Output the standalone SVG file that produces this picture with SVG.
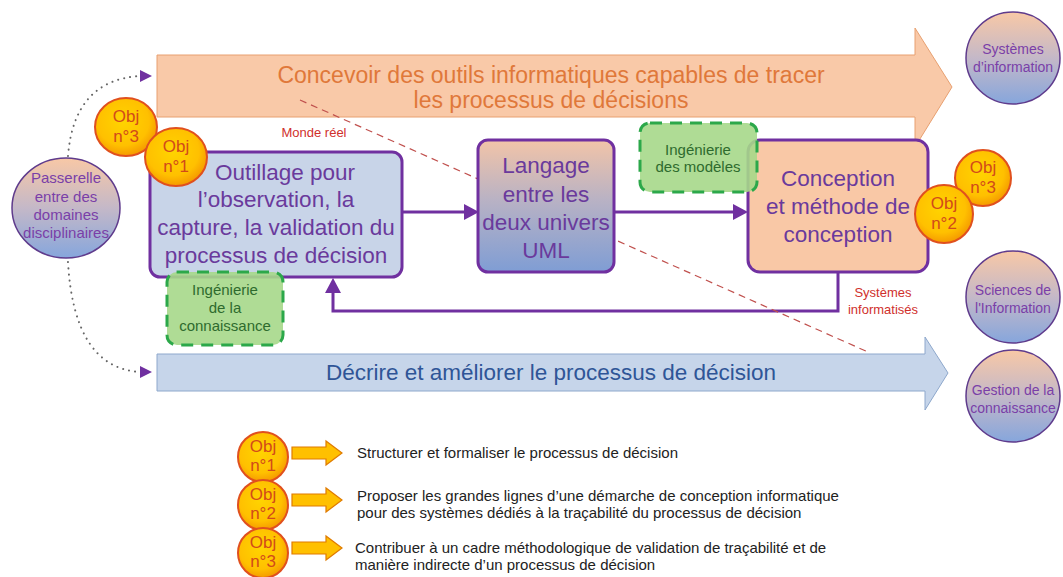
<svg xmlns="http://www.w3.org/2000/svg" width="1063" height="577" viewBox="0 0 1063 577">
<defs>
<radialGradient id="objG" cx="0.45" cy="0.4" r="0.6">
<stop offset="0" stop-color="#ffd400"/><stop offset="0.7" stop-color="#ffc000"/><stop offset="1" stop-color="#f59a00"/>
</radialGradient>
<linearGradient id="pbG" x1="0" y1="0" x2="0" y2="1">
<stop offset="0" stop-color="#f8c8a6"/><stop offset="0.5" stop-color="#c4b8c8"/><stop offset="1" stop-color="#86a6dc"/>
</linearGradient>
<linearGradient id="langG" x1="0" y1="0" x2="0" y2="1">
<stop offset="0" stop-color="#f2c4a8"/><stop offset="0.45" stop-color="#b9b2c4"/><stop offset="1" stop-color="#7f9dd4"/>
</linearGradient>
</defs>
<style>
text{font-family:"Liberation Sans",Arial,sans-serif;text-anchor:middle}
.obj{fill:url(#objG);stroke:#e0501e;stroke-width:2}
.objt{font-size:17px;fill:#d24a1a}
.ball{fill:url(#pbG);stroke:#5f3b8c;stroke-width:1.5}
.ballt{font-size:15px;fill:#7a3fa8}
.ballr{font-size:14px;fill:#7a3fa8}
.box{stroke:#7030a0;stroke-width:3}
.boxt{font-size:22.5px;fill:#6a3a9c}
.green{fill:#a6d88a;stroke:#2ca84a;stroke-width:3;stroke-dasharray:12 8;fill-opacity:0.9}
.greent{font-size:15px;fill:#2e6b2e}
.conn{fill:none;stroke:#7030a0;stroke-width:3}
.dot{fill:none;stroke:#666;stroke-width:2;stroke-dasharray:0.1 6;stroke-linecap:round}
.red{font-size:13px;fill:#d0302c}
.leg{font-size:15px;fill:#222;text-anchor:start}
.larr{fill:#ffc000;stroke:#e07b00;stroke-width:1.2}
.ah{fill:#7030a0}
</style>
<rect width="1063" height="577" fill="#ffffff"/>

<g id="arrow-top">
<path d="M157,55 L915,55 L915,28 L952,87 L915,147 L915,117 L157,117 Z" fill="#f9c9a8" stroke="#e8a070" stroke-width="1"/>
<text x="551" y="83" font-size="23" fill="#e0783a">Concevoir des outils informatiques capables de tracer</text>
<text x="551" y="108" font-size="23" fill="#e0783a">les processus de décisions</text>
</g>

<g id="arrow-bottom">
<path d="M157,354 L925,354 L925,337 L948,373 L925,410 L925,391 L157,391 Z" fill="#c6d5ea" stroke="#8ea8cc" stroke-width="1"/>
<text x="551" y="380" font-size="22.5" fill="#2f5597">Décrire et améliorer le processus de décision</text>
</g>

<g id="connectors">
<path class="dot" d="M68,156 Q74,80 140,76"/>
<path class="ah" d="M140,70 L152,76 L140,82 Z"/>
<path class="dot" d="M68,262 Q74,368 140,372"/>
<path class="ah" d="M140,366 L152,372 L140,378 Z"/>
<line class="conn" x1="402" y1="212" x2="466" y2="212"/>
<path class="ah" d="M464,204 L479,212 L464,220 Z"/>
<line class="conn" x1="614" y1="212" x2="734" y2="212"/>
<path class="ah" d="M733,204 L748,212 L733,220 Z"/>
<polyline class="conn" points="838,272 838,311 333,311 333,292"/>
<path class="ah" d="M325,293 L333,278 L341,293 Z"/>
<line x1="300" y1="100" x2="868" y2="352" stroke="#c0504d" stroke-width="1.2" stroke-dasharray="7 5"/>
</g>

<g id="monde-reel"><text class="red" x="314" y="137">Monde réel</text></g>
<g id="systemes-informatises"><text class="red" x="883" y="297">Systèmes</text><text class="red" x="883" y="314">informatisés</text></g>

<g id="passerelle">
<ellipse class="ball" cx="66" cy="208" rx="54" ry="50"/>
<text class="ballt" x="66" y="183">Passerelle</text>
<text class="ballt" x="66" y="202">entre des</text>
<text class="ballt" x="66" y="220">domaines</text>
<text class="ballt" x="66" y="238">disciplinaires</text>
</g>

<g id="outillage">
<rect class="box" x="150" y="152" width="252" height="125" rx="10" fill="#c8d4e8"/>
<text class="boxt" x="285" y="180">Outillage pour</text>
<text class="boxt" x="276" y="207">l’observation, la</text>
<text class="boxt" x="276" y="235">capture, la validation du</text>
<text class="boxt" x="276" y="263">processus de décision</text>
</g>

<g id="langage">
<rect class="box" x="478" y="140" width="136" height="132" rx="10" fill="url(#langG)"/>
<text class="boxt" x="546" y="173">Langage</text>
<text class="boxt" x="546" y="202">entre les</text>
<text class="boxt" x="546" y="230">deux univers</text>
<text class="boxt" x="546" y="258">UML</text>
</g>

<g id="conception">
<rect class="box" x="748" y="140" width="180" height="132" rx="12" fill="#f9c8a6"/>
<text class="boxt" x="838" y="186">Conception</text>
<text class="boxt" x="838" y="214">et méthode de</text>
<text class="boxt" x="838" y="242">conception</text>
</g>

<g id="ing-modeles">
<rect class="green" x="640" y="123" width="117" height="69" rx="10"/>
<text class="greent" x="698" y="155">Ingénierie</text>
<text class="greent" x="698" y="172">des modèles</text>
</g>

<g id="ing-connaissance">
<rect class="green" x="167" y="272" width="116" height="73" rx="10"/>
<text class="greent" x="225" y="295">Ingénierie</text>
<text class="greent" x="225" y="313">de la</text>
<text class="greent" x="225" y="331">connaissance</text>
</g>

<g id="obj3-top">
<ellipse class="obj" cx="126" cy="127" rx="31" ry="29"/>
<text class="objt" x="126" y="122">Obj</text><text class="objt" x="126" y="142">n°3</text>
</g>
<g id="obj1-top">
<ellipse class="obj" cx="176" cy="157" rx="31" ry="29"/>
<text class="objt" x="176" y="152">Obj</text><text class="objt" x="176" y="172">n°1</text>
</g>
<g id="obj3-right">
<ellipse class="obj" cx="983" cy="178" rx="28" ry="28"/>
<text class="objt" x="983" y="173">Obj</text><text class="objt" x="983" y="193">n°3</text>
</g>
<g id="obj2-right">
<ellipse class="obj" cx="944" cy="214" rx="29" ry="29"/>
<text class="objt" x="944" y="209">Obj</text><text class="objt" x="944" y="229">n°2</text>
</g>

<g id="systemes-information">
<ellipse class="ball" cx="1013" cy="58" rx="47" ry="46"/>
<text class="ballr" x="1013" y="54">Systèmes</text>
<text class="ballr" x="1013" y="72">d’information</text>
</g>
<g id="sciences-information">
<ellipse class="ball" cx="1013" cy="297" rx="47" ry="46"/>
<text class="ballr" x="1013" y="295">Sciences de</text>
<text class="ballr" x="1013" y="313">l'Information</text>
</g>
<g id="gestion-connaissance">
<ellipse class="ball" cx="1013" cy="396" rx="47" ry="46"/>
<text class="ballr" x="1013" y="395">Gestion de la</text>
<text class="ballr" x="1013" y="413">connaissance</text>
</g>

<g id="legend-obj1">
<ellipse class="obj" cx="263" cy="457" rx="25" ry="25"/>
<text class="objt" x="263" y="452">Obj</text><text class="objt" x="263" y="471">n°1</text>
<path class="larr" d="M292,447 L326,447 L326,441 L342,453 L326,465 L326,459 L292,459 Z"/>
<text class="leg" x="357" y="458">Structurer et formaliser le processus de décision</text>
</g>
<g id="legend-obj2">
<ellipse class="obj" cx="263" cy="505" rx="25" ry="25"/>
<text class="objt" x="263" y="500">Obj</text><text class="objt" x="263" y="519">n°2</text>
<path class="larr" d="M292,494 L326,494 L326,488 L342,500 L326,512 L326,506 L292,506 Z"/>
<text class="leg" x="357" y="501">Proposer les grandes lignes d’une démarche de conception informatique</text>
<text class="leg" x="357" y="518">pour des systèmes dédiés à la traçabilité du processus de décision</text>
</g>
<g id="legend-obj3">
<ellipse class="obj" cx="263" cy="553" rx="25" ry="25"/>
<text class="objt" x="263" y="548">Obj</text><text class="objt" x="263" y="567">n°3</text>
<path class="larr" d="M292,542 L326,542 L326,536 L342,548 L326,560 L326,554 L292,554 Z"/>
<text class="leg" x="355" y="553">Contribuer à un cadre méthodologique de validation de traçabilité et de</text>
<text class="leg" x="355" y="570">manière indirecte d’un processus de décision</text>
</g>
</svg>
